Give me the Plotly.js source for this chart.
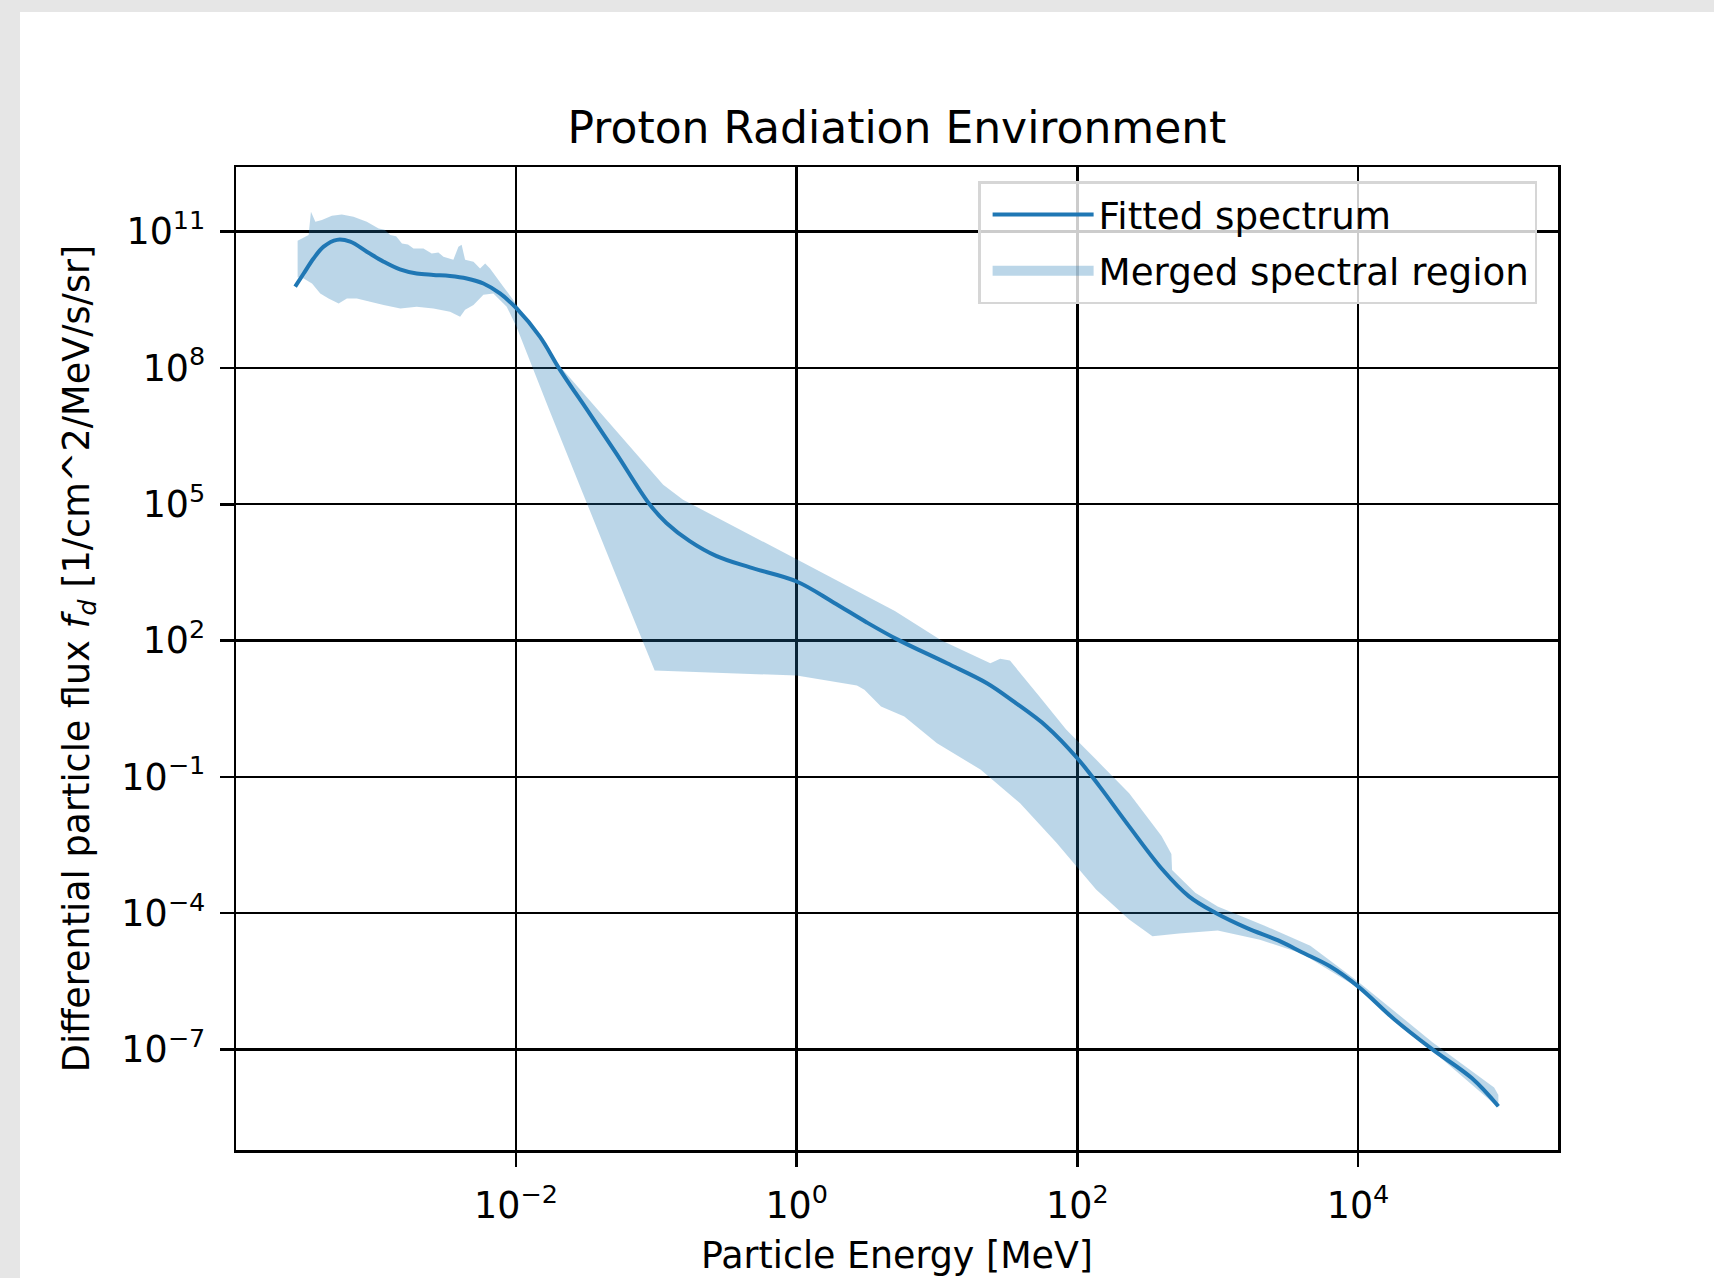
<!DOCTYPE html>
<html>
<head>
<meta charset="utf-8">
<script src="https://cdn.plot.ly/plotly-3.0.1.min.js"></script>
<style>
  html, body { margin: 0; padding: 0; background: #e6e6e6; width: 1714px; height: 1278px; overflow: hidden; }
  #chart { position: absolute; left: 20px; top: 12px; width: 1694px; height: 1266px; background: #ffffff; }
</style>
</head>
<body>
<div id="chart"></div>
<script>
// Fitted spectrum: particle energy [MeV] and differential flux [1/cm^2/MeV/s/sr]
const fitEnergy = [2.67e-4, 3.07e-4, 3.61e-4, 4.26e-4, 5.30e-4, 6.59e-4, 8.65e-4, 1.14e-3, 1.49e-3, 1.96e-3,
  2.58e-3, 3.39e-3, 4.46e-3, 5.86e-3, 7.69e-3, 1.01e-2, 1.48e-2, 2.06e-2, 3.34e-2, 5.18e-2,
  8.95e-2, 0.118, 0.173, 0.269, 0.465, 1.0, 1.83, 3.16, 5.25, 11.8,
  22.7, 35.1, 60.3, 100, 144, 234, 404, 624, 962, 1620,
  2700, 3980, 6310, 1.0e4, 1.82e4, 3.39e4, 6.46e4, 1.0e5];
const fitFlux = [6.17e9, 1.20e10, 2.57e10, 4.68e10, 6.61e10, 6.03e10, 3.63e10, 2.19e10, 1.48e10, 1.20e10,
  1.12e10, 1.06e10, 9.33e9, 7.24e9, 4.37e9, 2.04e9, 4.90e8, 9.12e7, 1.0e7, 1.32e6,
  1.0e5, 3.89e4, 1.55e4, 7.24e3, 4.07e3, 2.0e3, 692, 251, 105, 31.6,
  11.5, 4.57, 1.29, 0.257, 0.0617, 8.13e-3, 9.12e-4, 2.34e-4, 1.02e-4, 4.68e-5,
  2.51e-5, 1.38e-5, 6.76e-6, 2.45e-6, 4.57e-7, 1.0e-7, 2.34e-8, 5.62e-9];

// Merged spectral region: upper and lower envelope
const bandUpperEnergy = [2.78e-4, 3.33e-4, 3.46e-4, 3.72e-4, 4.14e-4, 4.88e-4, 5.74e-4, 6.95e-4, 8.65e-4, 1.05e-3,
  1.16e-3, 1.27e-3, 1.40e-3, 1.54e-3, 1.70e-3, 1.86e-3, 2.19e-3, 2.51e-3, 2.80e-3, 3.04e-3,
  3.58e-3, 3.89e-3, 4.10e-3, 4.34e-3, 4.98e-3, 5.55e-3, 6.03e-3, 6.53e-3, 8.13e-3, 1.01e-2,
  2.04e-2, 0.112, 0.155, 1.0, 2.88, 5.01, 10.7, 24.0, 28.2, 33.1,
  53.7, 83.2, 136, 234, 398, 468, 473, 692, 1000, 2140,
  4570, 9770, 3.39e4, 9.33e4, 1.0e5];
const bandUpperFlux = [6.31e10, 8.51e10, 2.75e11, 1.66e11, 1.82e11, 2.24e11, 2.40e11, 2.14e11, 1.66e11, 1.17e11,
  1.10e11, 8.51e10, 7.9e10, 5.50e10, 5.2e10, 4.27e10, 4.27e10, 3.31e10, 3.5e10, 2.82e10,
  2.40e10, 4.68e10, 5.13e10, 2.40e10, 2.19e10, 1.55e10, 2.0e10, 1.55e10, 6.17e9, 2.51e9,
  1.12e8, 2.69e5, 1.26e5, 6170, 1100, 447, 102, 31.6, 39.8, 36.3,
  5.89, 1.10, 0.240, 0.0437, 5.01e-3, 2.0e-3, 8.91e-4, 2.82e-4, 1.41e-4, 5.37e-5,
  1.91e-5, 3.31e-6, 1.45e-7, 1.45e-8, 1.0e-8];
const bandLowerEnergy = [2.78e-4, 3.07e-4, 3.52e-4, 4.03e-4, 4.62e-4, 5.45e-4, 6.24e-4, 7.35e-4, 9.14e-4, 1.14e-3,
  1.50e-3, 1.96e-3, 2.58e-3, 3.39e-3, 4.0e-3, 4.34e-3, 4.98e-3, 5.86e-3, 6.90e-3, 8.59e-3,
  1.01e-2, 1.73e-2, 2.99e-2, 5.18e-2, 9.73e-2, 1.0, 2.69, 3.04, 3.99, 5.85,
  10.0, 20.4, 39.1, 71.0, 136, 234, 343, 530, 1000, 2000,
  3980, 1.0e4, 3.39e4, 1.0e5];
const bandLowerFlux = [1.0e10, 9.33e9, 7.24e9, 4.37e9, 3.39e9, 2.63e9, 3.39e9, 3.39e9, 2.88e9, 2.45e9,
  2.04e9, 2.24e9, 2.04e9, 1.74e9, 1.35e9, 1.91e9, 2.45e9, 4.07e9, 4.37e9, 2.24e9,
  7.94e8, 1.17e7, 1.78e5, 2630, 21.9, 17.0, 10.2, 8.32, 3.55, 2.14,
  0.550, 0.145, 0.0263, 3.55e-3, 3.31e-4, 7.24e-5, 3.09e-5, 3.55e-5, 4.17e-5, 2.6e-5,
  1.3e-5, 2.29e-6, 9.33e-8, 5.25e-9];

const xTickVals = [1e-2, 1e0, 1e2, 1e4];
const xTickText = ['10<sup>−2</sup>', '10<sup>0</sup>', '10<sup>2</sup>', '10<sup>4</sup>'];
const yTickVals = [1e-7, 1e-4, 1e-1, 1e2, 1e5, 1e8, 1e11];
const yTickText = ['10<sup>−7</sup>', '10<sup>−4</sup>', '10<sup>−1</sup>', '10<sup>2</sup>', '10<sup>5</sup>', '10<sup>8</sup>', '10<sup>11</sup>'];

const bandX = bandUpperEnergy.concat(bandLowerEnergy.slice().reverse());
const bandY = bandUpperFlux.concat(bandLowerFlux.slice().reverse());

const bandColor = 'rgba(31,119,180,0.3)';

const traces = [
  {
    x: bandX, y: bandY, type: 'scatter', mode: 'none', fill: 'toself',
    fillcolor: bandColor, name: 'Merged spectral region', legendgroup: 'band', showlegend: false,
    hoverinfo: 'skip'
  },
  {
    x: fitEnergy, y: fitFlux, type: 'scatter', mode: 'lines',
    line: { color: '#1f77b4', width: 4, shape: 'spline', smoothing: 1 },
    name: 'Fitted spectrum', legendgroup: 'fit', legendrank: 1
  },
  {
    // legend key for the shaded region (drawn as a filled swatch)
    x: [null], y: [null], type: 'scatter', mode: 'lines',
    line: { color: bandColor, width: 26 },
    name: 'Merged spectral region', legendgroup: 'band', legendrank: 2, hoverinfo: 'skip'
  }
];

const axisCommon = {
  type: 'log', showline: true, mirror: true, linecolor: '#000', linewidth: 2.5,
  showgrid: true, gridcolor: '#000', gridwidth: 2.4, zeroline: false,
  ticks: 'outside', ticklen: 14, tickwidth: 2.5, tickcolor: '#000',
  tickmode: 'array', tickfont: { size: 36.4, color: '#000' }
};

const layout = {
  width: 1694, height: 1266,
  paper_bgcolor: '#ffffff', plot_bgcolor: '#ffffff',
  font: { family: 'DejaVu Sans', color: '#000' },
  margin: { l: 216, r: 156, t: 155, b: 128 },
  title: {
    text: 'Proton Radiation Environment', font: { size: 44, color: '#000' },
    x: 0.5, xref: 'paper', xanchor: 'center', y: 1 - 116 / 1266, yref: 'container', yanchor: 'middle'
  },
  xaxis: Object.assign({}, axisCommon, {
    range: [-3.995, 5.425], tickvals: xTickVals, ticktext: xTickText, ticklabelstandoff: 8,
    title: { text: 'Particle Energy [MeV]', font: { size: 36.4, color: '#000' }, standoff: 17 },
    automargin: false
  }),
  yaxis: Object.assign({}, axisCommon, {
    range: [-9.213, 12.424], tickvals: yTickVals, ticktext: yTickText, ticklabelstandoff: 7,
    title: { text: 'Differential particle flux <i>f</i><sub><i>d</i></sub> [1/cm^2/MeV/s/sr]', font: { size: 36.6, color: '#000' }, standoff: 21 },
    automargin: false
  }),
  showlegend: true,
  legend: {
    x: 0.9842, xanchor: 'right', y: 0.9855, yanchor: 'top',
    bgcolor: 'rgba(255,255,255,0.8)', bordercolor: 'rgb(214,214,214)', borderwidth: 2.5,
    font: { size: 37.2, color: '#000' }, itemwidth: 101, indentation: 7,
    traceorder: 'grouped', tracegroupgap: 5
  }
};

Plotly.newPlot('chart', traces, layout, { displayModeBar: false, staticPlot: true });
</script>
</body>
</html>
